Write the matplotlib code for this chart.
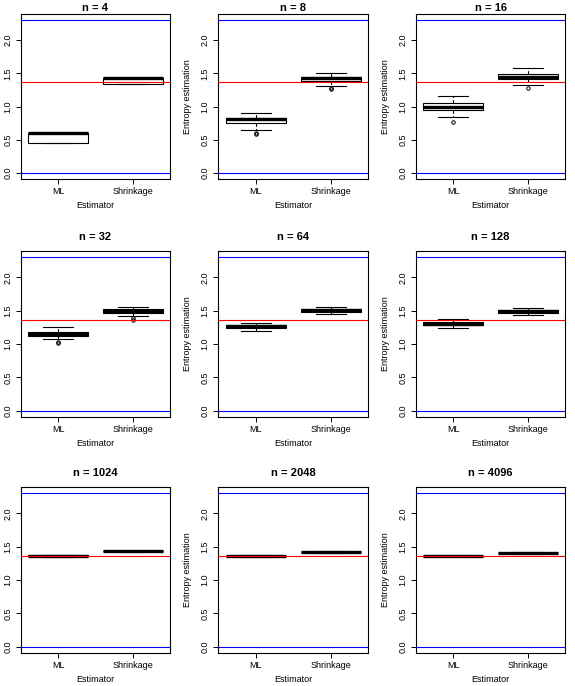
import matplotlib
matplotlib.use("Agg")
import matplotlib.pyplot as plt

# sample sizes, one panel each
sizes = [4, 8, 16, 32, 64, 128, 1024, 2048, 4096]
estimators = ["ML", "Shrinkage"]

# box statistics: (whislo, q1, med, q3, whishi)
ml_stats = [
    (0.45, 0.45, 0.60, 0.60, 0.60),
    (0.65, 0.75, 0.81, 0.825, 0.90),
    (0.835, 0.95, 1.00, 1.05, 1.165),
    (1.075, 1.12, 1.155, 1.18, 1.25),
    (1.20, 1.24, 1.265, 1.29, 1.32),
    (1.245, 1.28, 1.305, 1.33, 1.37),
    (1.345, 1.355, 1.36, 1.37, 1.38),
    (1.35, 1.355, 1.36, 1.365, 1.37),
    (1.355, 1.36, 1.362, 1.365, 1.37),
]
sh_stats = [
    (1.335, 1.335, 1.435, 1.435, 1.435),
    (1.315, 1.385, 1.43, 1.45, 1.50),
    (1.32, 1.41, 1.45, 1.49, 1.575),
    (1.415, 1.46, 1.49, 1.52, 1.56),
    (1.45, 1.485, 1.51, 1.53, 1.555),
    (1.43, 1.47, 1.49, 1.51, 1.54),
    (1.42, 1.43, 1.435, 1.44, 1.455),
    (1.41, 1.415, 1.42, 1.425, 1.43),
    (1.395, 1.40, 1.405, 1.41, 1.42),
]
ml_outliers = [[], [0.59, 0.60], [0.77], [1.03, 1.01], [], [], [], [], []]
sh_outliers = [[], [1.265, 1.275], [1.275], [1.385, 1.36], [], [], [], [], []]

true_entropy = 1.365
max_entropy = 2.3026

plt.rcParams["font.family"] = ["Liberation Sans", "DejaVu Sans"]

fig = plt.figure(figsize=(5.75, 6.86), dpi=100)
W, H = 575.0, 686.0
cols = [(21, 170), (218, 368), (416, 565)]
rows = [(14, 179), (251, 417), (487, 653)]


def to_dict(s, fl, label):
    return {"whislo": s[0], "q1": s[1], "med": s[2], "q3": s[3],
            "whishi": s[4], "fliers": fl, "label": label}


for i, n in enumerate(sizes):
    r, c = divmod(i, 3)
    x0, x1 = cols[c]
    y0, y1 = rows[r]
    ax = fig.add_axes([x0 / W, 1 - y1 / H, (x1 - x0) / W, (y1 - y0) / H])
    stats = [to_dict(ml_stats[i], ml_outliers[i], estimators[0]),
             to_dict(sh_stats[i], sh_outliers[i], estimators[1])]
    ax.bxp(stats, positions=[1, 2], widths=0.8, patch_artist=True,
           boxprops=dict(facecolor="white", edgecolor="black", linewidth=0.8),
           medianprops=dict(color="black", linewidth=2.4, solid_capstyle="butt"),
           whiskerprops=dict(color="black", linewidth=0.8, linestyle=(0, (3, 2))),
           capprops=dict(color="black", linewidth=0.8),
           capwidths=0.4,
           flierprops=dict(marker="o", markersize=2.5, markerfacecolor="none",
                           markeredgecolor="black", markeredgewidth=0.7))
    ax.axhline(max_entropy, color="blue", linewidth=0.8, zorder=5)
    ax.axhline(0, color="blue", linewidth=0.8, zorder=5)
    ax.axhline(true_entropy, color="red", linewidth=0.8, zorder=5)
    ax.set_xlim(0.5, 2.5)
    ax.set_ylim(-0.092, 2.395)
    ax.set_yticks([0.0, 0.5, 1.0, 1.5, 2.0])
    ax.set_yticklabels(["0.0", "0.5", "1.0", "1.5", "2.0"], rotation=90, va="center")
    ax.set_xticks([1, 2])
    ax.set_xticklabels(estimators)
    ax.tick_params(labelsize=6.5, length=3.5, width=0.7, pad=2.5)
    for sp in ax.spines.values():
        sp.set_linewidth(0.8)
    # top row titles sit at the very edge; keep them just inside the canvas
    ax.set_title("n = %d" % n, fontsize=8, fontweight="bold", pad=2 if r == 0 else 8)
    ax.set_xlabel("Estimator", fontsize=6.5, labelpad=3.5)
    if c > 0:
        ax.set_ylabel("Entropy estimation", fontsize=6.5, labelpad=6)

fig.savefig("out.png", dpi=100)
